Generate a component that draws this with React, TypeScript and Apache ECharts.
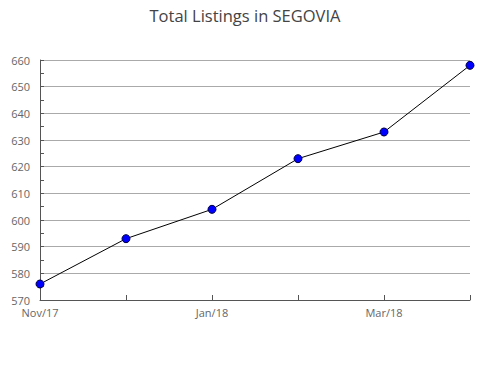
import React, { useEffect, useRef } from "react";
import * as echarts from "echarts";

const titleText = "Total Listings in SEGOVIA";
const categories = ["Nov/17", "Dec/17", "Jan/18", "Feb/18", "Mar/18", "Apr/18"];
const listings = [576, 593, 604, 623, 633, 658];
const yMin = 570;
const yMax = 660;
const yStep = 10;

export default function App() {
  const ref = useRef<HTMLDivElement>(null);
  useEffect(() => {
    const chart = echarts.init(ref.current!, null, { renderer: "svg" });
    chart.setOption({
      animation: false,
      backgroundColor: "#ffffff",
      textStyle: { fontFamily: "Open Sans" },
      title: {
        text: titleText,
        left: "center",
        top: 2,
        textStyle: { fontFamily: "Open Sans", fontSize: 16.5, fontWeight: "normal", color: "#444" },
      },
      grid: { left: 40, right: 20, top: 60, bottom: 80, containLabel: false },
      xAxis: {
        type: "category",
        data: categories,
        boundaryGap: false,
        axisLine: { lineStyle: { color: "#555", width: 1 } },
        axisTick: { show: true, inside: true, length: 5, interval: 0, lineStyle: { color: "#555" } },
        axisLabel: { interval: 1, color: "#666", fontSize: 11, lineHeight: 12, margin: 6, fontFamily: "Open Sans" },
        splitLine: { show: false },
      },
      yAxis: {
        type: "value",
        min: yMin,
        max: yMax,
        interval: yStep,
        axisLine: { show: true, lineStyle: { color: "#555", width: 1 } },
        axisTick: { show: true, inside: true, length: 4, lineStyle: { color: "#555" } },
        minorTick: { show: true, splitNumber: 2, length: 4, lineStyle: { color: "#555" } },
        axisLabel: { color: "#666", fontSize: 11, lineHeight: 11, margin: 10, fontFamily: "Open Sans" },
        splitLine: { show: true, lineStyle: { color: "#aaa", width: 1 } },
      },
      series: [
        {
          type: "line",
          data: listings,
          symbol: "circle",
          symbolSize: 8,
          lineStyle: { color: "#000", width: 1 },
          itemStyle: { color: "#0000ff", borderColor: "#000044", borderWidth: 1 },
        },
      ],
    });
    return () => chart.dispose();
  }, []);
  return <div ref={ref} style={{ width: 490, height: 380, position: "absolute", left: 0, top: 0 }} />;
}
